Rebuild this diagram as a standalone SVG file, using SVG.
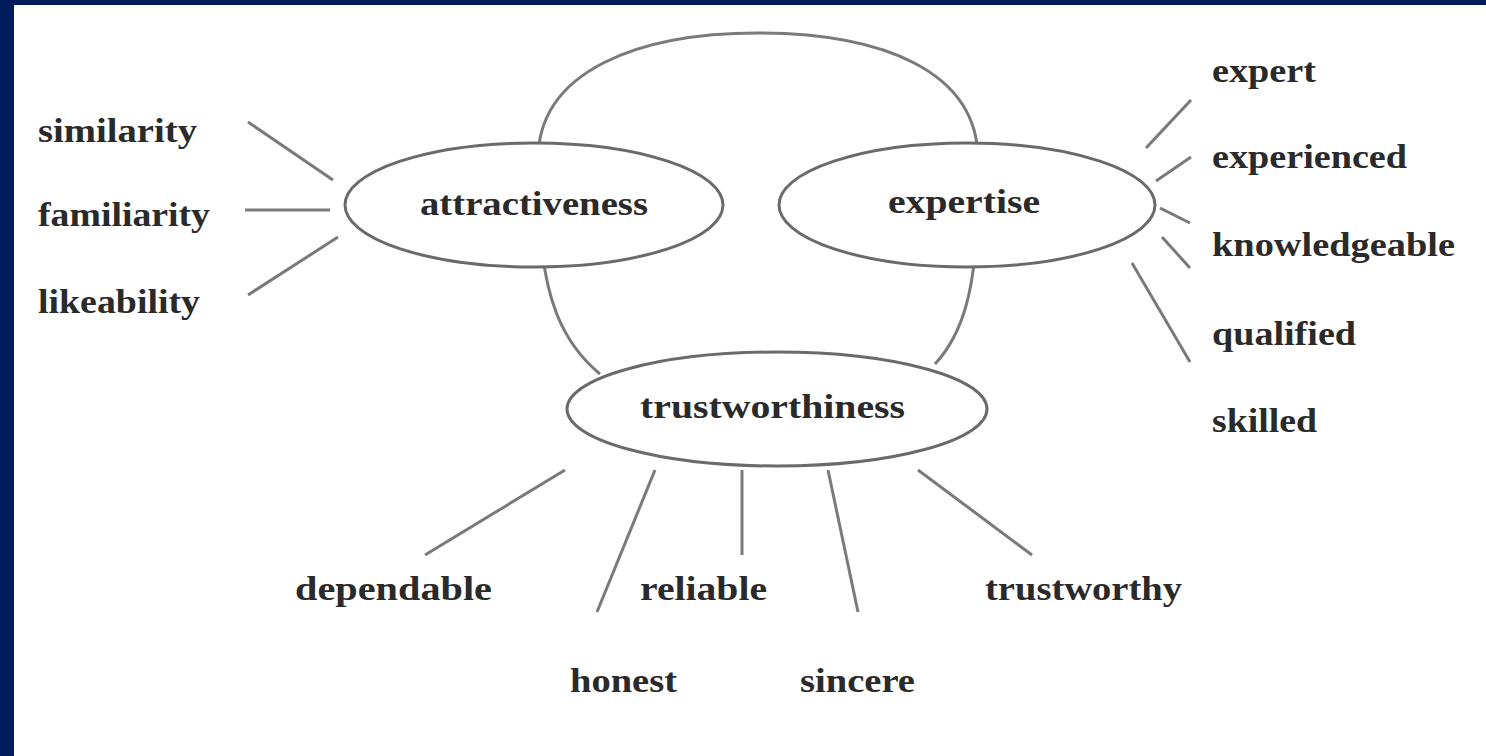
<svg xmlns="http://www.w3.org/2000/svg" width="1486" height="756" viewBox="0 0 1486 756">
<style>
.t{font-family:"Liberation Serif","Times New Roman",serif;font-weight:bold;font-size:34px;fill:#2a2a2a}
.e{fill:#fff;stroke:#6a6a6a;stroke-width:3}
.c line,.c path{stroke:#7a7a7a;stroke-width:3;fill:none}
</style>
<rect width="1486" height="756" fill="#fff"/>
<rect x="0" y="0" width="1486" height="5" fill="#001c5c"/>
<rect x="0" y="0" width="14" height="756" fill="#001c5c"/>
<g class="c" id="connectors">
<path d="M538,205 L538,160 C538,70 640,33 758,33 C880,33 978,70 978,160 L977,205 C977,290 962,335 935,364 M540,205 C540,300 565,345 600,374"/>
<line x1="248" y1="122" x2="333" y2="180"/>
<line x1="245" y1="210" x2="330" y2="210"/>
<line x1="248" y1="295" x2="338" y2="237"/>
<line x1="1146" y1="148" x2="1191" y2="100"/>
<line x1="1156" y1="181" x2="1191" y2="157"/>
<line x1="1160" y1="208" x2="1190" y2="223"/>
<line x1="1162" y1="237" x2="1190" y2="268"/>
<line x1="1132" y1="263" x2="1190" y2="362"/>
<line x1="565" y1="470" x2="425" y2="555"/>
<line x1="655" y1="470" x2="597" y2="612"/>
<line x1="742" y1="470" x2="742" y2="555"/>
<line x1="828" y1="470" x2="858" y2="612"/>
<line x1="918" y1="470" x2="1032" y2="555"/>
</g>
<g id="attractiveness"><ellipse class="e" cx="534" cy="205" rx="189" ry="62"/><text class="t" x="420" y="215" textLength="228" lengthAdjust="spacingAndGlyphs">attractiveness</text></g>
<g id="expertise"><ellipse class="e" cx="967" cy="205" rx="188" ry="62"/><text class="t" x="888" y="213" textLength="152" lengthAdjust="spacingAndGlyphs">expertise</text></g>
<g id="trustworthiness"><ellipse class="e" cx="777" cy="409" rx="210" ry="57"/><text class="t" x="640" y="418" textLength="265" lengthAdjust="spacingAndGlyphs">trustworthiness</text></g>
<g id="similarity"><text class="t" x="38" y="142" textLength="159" lengthAdjust="spacingAndGlyphs">similarity</text></g>
<g id="familiarity"><text class="t" x="38" y="226" textLength="172" lengthAdjust="spacingAndGlyphs">familiarity</text></g>
<g id="likeability"><text class="t" x="38" y="313" textLength="162" lengthAdjust="spacingAndGlyphs">likeability</text></g>
<g id="expert"><text class="t" x="1212" y="82" textLength="104" lengthAdjust="spacingAndGlyphs">expert</text></g>
<g id="experienced"><text class="t" x="1212" y="168" textLength="195" lengthAdjust="spacingAndGlyphs">experienced</text></g>
<g id="knowledgeable"><text class="t" x="1212" y="256" textLength="243" lengthAdjust="spacingAndGlyphs">knowledgeable</text></g>
<g id="qualified"><text class="t" x="1212" y="345" textLength="144" lengthAdjust="spacingAndGlyphs">qualified</text></g>
<g id="skilled"><text class="t" x="1212" y="432" textLength="105" lengthAdjust="spacingAndGlyphs">skilled</text></g>
<g id="dependable"><text class="t" x="295" y="600" textLength="197" lengthAdjust="spacingAndGlyphs">dependable</text></g>
<g id="reliable"><text class="t" x="640" y="600" textLength="127" lengthAdjust="spacingAndGlyphs">reliable</text></g>
<g id="trustworthy"><text class="t" x="985" y="600" textLength="197" lengthAdjust="spacingAndGlyphs">trustworthy</text></g>
<g id="honest"><text class="t" x="570" y="692" textLength="107" lengthAdjust="spacingAndGlyphs">honest</text></g>
<g id="sincere"><text class="t" x="800" y="692" textLength="115" lengthAdjust="spacingAndGlyphs">sincere</text></g>
</svg>
